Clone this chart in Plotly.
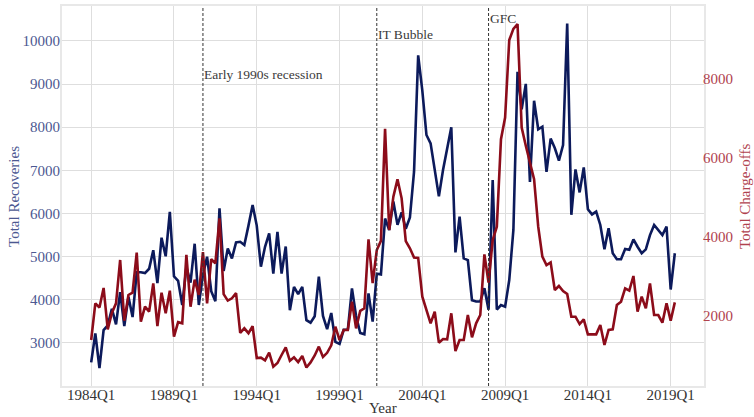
import plotly.graph_objects as go

# Quarterly labels, 1984Q1 .. 2019Q2
QUARTERS = [f"{yr}Q{q}" for yr in range(1984, 2020) for q in range(1, 5)][:142]

RECOVERIES = [
    2550, 3220, 2420, 3300, 3410, 3790, 3430, 4180, 3390, 4070,
    3600, 4640, 4640, 4620, 4720, 5150, 4390, 5440, 5010, 6040,
    4545, 4440, 3880, 4760, 4400, 5300, 3880, 4575, 5000, 4200,
    3970, 6120, 4670, 5190, 4960, 5330, 5345, 5270, 5720, 6200,
    5720, 4770, 5230, 5540, 4610, 5575, 4610, 5235, 3760, 4300,
    4130, 4300, 3530, 3470, 3620, 4535, 3625, 3320, 3695, 3025,
    2980, 3305, 3305, 4265, 3625, 3230, 3200, 4147, 3495, 4605,
    4590, 5885, 5620, 6278, 5737, 6026, 5647, 5908, 6970, 9665,
    8850, 7820, 7628, 7010, 6398, 7010, 7511, 8000, 5098, 5928,
    4960, 4920, 3990, 3960, 3960, 4270, 3770, 6775, 3775, 3880,
    3840, 4460, 5620, 9285, 8415, 9005, 6735, 8613, 7953, 8012,
    6965, 7737, 7517, 7228, 7585, 10405, 5970, 7022, 6490, 7070,
    6100, 5980, 6045, 5735, 5170, 5660, 5080, 4940, 4940, 5180,
    5160, 5400, 5230, 5080, 5170, 5500, 5735, 5620, 5500, 5700,
    4240, 5080,
]

CHARGE_OFFS = [
    1392, 2321, 2215, 2710, 1660, 2075, 2321, 3418, 1880, 2532,
    2591, 3603, 1857, 2236, 2110, 2827, 1747, 2590, 2068, 2640,
    1480, 1845, 1815, 3550, 2236, 2920, 2532, 3615, 2321, 3440,
    3333, 4473, 2555, 2390, 2447, 2580, 1575, 1688, 1565, 1740,
    937, 945, 878, 1075, 717, 810, 1013, 1203, 865, 954,
    835, 987, 696, 825, 1000, 1224, 962, 1068, 1258, 1730,
    1392, 1645, 1645, 2363, 1688, 2130, 2194, 3941, 2835, 3671,
    3903, 6740, 4177, 5021, 5460, 4979, 3895, 3713, 3481, 3472,
    2489, 2152, 1814, 2110, 1325, 1418, 1409, 2068, 1114, 1392,
    1392, 2025, 1460, 1814, 2025, 3561, 2844, 3924, 4262, 6477,
    7025, 8987, 9270, 9392, 6772, 6308, 5886, 5464, 4262, 3502,
    3291, 3359, 2658, 2759, 2633, 2557, 1983, 1983, 1797, 1916,
    1536, 1536, 1536, 1772, 1266, 1646, 1662, 2278, 2363, 2700,
    2641, 3013, 2110, 2489, 2194, 2827, 2025, 2025, 1831, 2321,
    1882, 2346,
]

EVENT_LABELS = ["Early 1990s recession", "IT Bubble", "GFC"]
EVENT_QUARTERS = ["1990Q4", "2001Q2", "2008Q1"]
EVENT_LABEL_Y = [0.821, 0.924, 0.968]

X_TICKS = ["1984Q1", "1989Q1", "1994Q1", "1999Q1", "2004Q1", "2009Q1", "2014Q1", "2019Q1"]
LEFT_TICKS = [3000, 4000, 5000, 6000, 7000, 8000, 9000, 10000]
RIGHT_TICKS = [2000, 4000, 6000, 8000]

NAVY = "#0c1a5b"
CRIMSON = "#8c0c1a"
NAVY_TEXT = "#4c5891"
CRIMSON_TEXT = "#b0424e"
GRID = "#dedede"
FRAME = "#e8e8e8"
INK = "#333333"
SERIF = "Liberation Serif, Times New Roman, serif"

fig = go.Figure()
fig.add_trace(go.Scatter(
    x=QUARTERS, y=RECOVERIES, mode="lines", name="Total Recoveries",
    line=dict(color=NAVY, width=2.6),
))
fig.add_trace(go.Scatter(
    x=QUARTERS, y=CHARGE_OFFS, mode="lines", name="Total Charge-offs",
    yaxis="y2", line=dict(color=CRIMSON, width=2.6),
))

# Dashed markers for the three downturns, each labelled just right of its line
for label, q, ly in zip(EVENT_LABELS, EVENT_QUARTERS, EVENT_LABEL_Y):
    idx = QUARTERS.index(q)
    fig.add_shape(
        type="line", xref="x", yref="paper", x0=idx, x1=idx, y0=0, y1=1,
        line=dict(color=INK, width=1, dash="3px,2px"), layer="above",
    )
    fig.add_annotation(
        x=idx, y=ly, xref="x", yref="paper", text=label, showarrow=False,
        xanchor="left", yanchor="middle", borderpad=0,
        font=dict(family=SERIF, size=13.5, color="#3a3a3a"),
    )

# Axis titles
fig.add_annotation(
    x=-0.0748, y=0.5, xref="paper", yref="paper", text="Total Recoveries",
    textangle=-90, showarrow=False, xanchor="center", yanchor="middle",
    font=dict(family=SERIF, size=15, color=NAVY_TEXT),
)
fig.add_annotation(
    x=1.0639, y=0.5, xref="paper", yref="paper", text="Total Charge-offs",
    textangle=-90, showarrow=False, xanchor="center", yanchor="middle",
    font=dict(family=SERIF, size=15, color=CRIMSON_TEXT),
)
fig.add_annotation(
    x=0.5, y=-0.057, xref="paper", yref="paper", text="Year",
    showarrow=False, xanchor="center", yanchor="middle",
    font=dict(family=SERIF, size=15, color=INK),
)

fig.update_layout(
    width=754, height=417,
    margin=dict(l=62, r=50, t=6, b=31, autoexpand=False),
    paper_bgcolor="white", plot_bgcolor="white",
    showlegend=False,
    font=dict(family=SERIF, size=15, color=INK),
    xaxis=dict(
        type="category", range=[-7.05, 148.05], automargin=False,
        tickvals=X_TICKS, ticktext=X_TICKS,
        showgrid=True, gridcolor=GRID, gridwidth=1,
        showline=True, mirror=True, linecolor=FRAME, linewidth=2,
        ticks="", ticklabelstandoff=-6,
        tickfont=dict(size=15, color=INK),
        zeroline=False,
    ),
    yaxis=dict(
        range=[2003, 10810], tickvals=LEFT_TICKS, automargin=False,
        ticktext=[str(v) for v in LEFT_TICKS],
        showgrid=True, gridcolor=GRID, gridwidth=1,
        showline=True, mirror=True, linecolor=FRAME, linewidth=2,
        ticks="", ticklabelstandoff=-3,
        tickfont=dict(size=15, color=NAVY_TEXT),
        zeroline=False,
    ),
    yaxis2=dict(
        overlaying="y", side="right", automargin=False,
        range=[228, 9848], tickvals=RIGHT_TICKS,
        ticktext=[str(v) for v in RIGHT_TICKS],
        showgrid=False, zeroline=False, showline=False,
        ticks="", ticklabelstandoff=-2,
        tickfont=dict(size=15, color=CRIMSON_TEXT),
    ),
)

fig.write_html("out.html")
